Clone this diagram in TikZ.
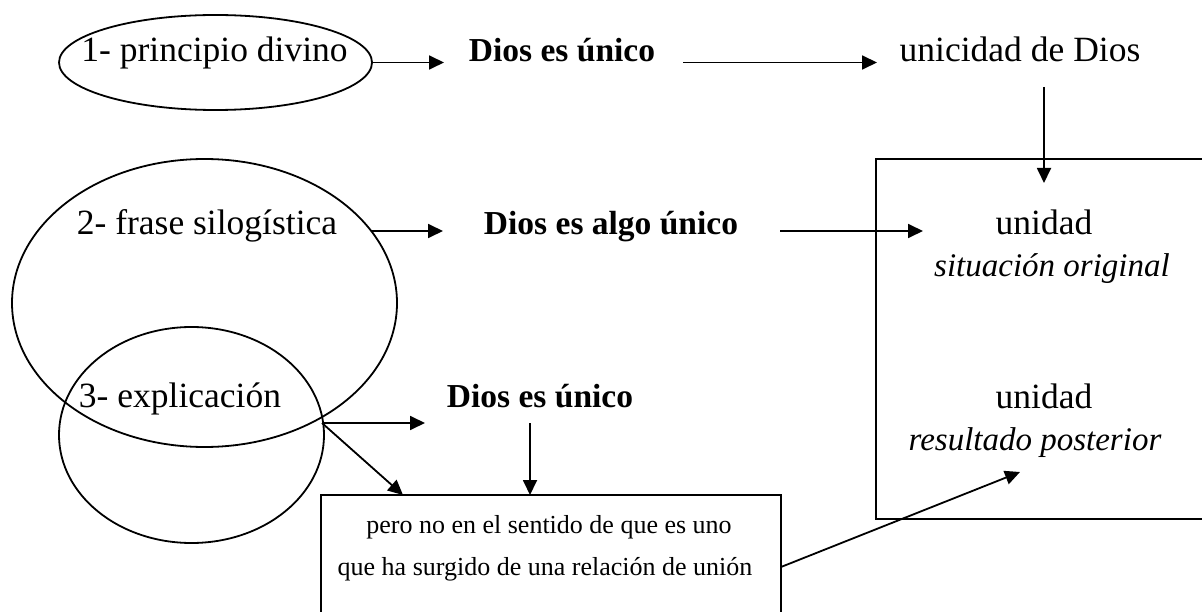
\documentclass[tikz,border=0pt]{standalone}
\usepackage{fontspec}
\setmainfont{Liberation Serif}
\usetikzlibrary{shapes.geometric,arrows.meta}
\begin{document}
\begin{tikzpicture}[x=1pt,y=-1pt,
  line width=1.8pt,
  shp/.style={draw,ellipse,inner sep=0pt},
  bx/.style={draw,rectangle,inner sep=0pt},
  lbl/.style={anchor=base,inner sep=0pt,font=\fontsize{35.5}{42}\selectfont},
  blbl/.style={lbl,font=\fontsize{33.5}{40}\selectfont\bfseries},
  ilbl/.style={lbl,font=\fontsize{33}{40}\selectfont\itshape},
  slbl/.style={anchor=base,inner sep=0pt,font=\fontsize{26}{42}\selectfont},
  arr/.style={-{Triangle[length=15pt,width=14pt]}}]
\useasboundingbox (0,0) rectangle (1202,612);
\clip (0,0) rectangle (1202,612);

% shapes
\node[shp,minimum width=313pt,minimum height=95pt] (e1) at (215.5,62.5) {};
\node[shp,minimum width=385pt,minimum height=288pt] (e2) at (204.5,303) {};
\node[shp,minimum width=265pt,minimum height=216pt] (e3) at (191.5,435) {};
\node[bx,minimum width=384pt,minimum height=360pt] (rbox) at (1068,339) {};
\node[bx,minimum width=460pt,minimum height=165pt] (bbox) at (551,577.5) {};

% labels
\node[lbl]  (t1) at (214.5,62) {1- principio divino};
\node[blbl] (d1) at (562,62) {Dios es único};
\node[lbl]  (u)  at (1020,62) {unicidad de Dios};
\node[lbl]  (t2) at (207,235) {2- frase silogística};
\node[blbl] (d2) at (611,235) {Dios es algo único};
\node[lbl]  (un1) at (1044,235) {unidad};
\node[ilbl] (so) at (1052,277) {situación original};
\node[lbl]  (t3) at (180,407) {3- explicación};
\node[blbl] (d3) at (540,407) {Dios es único};
\node[lbl]  (un2) at (1044,408) {unidad};
\node[ilbl] (rp) at (1035,450) {resultado posterior};
\node[slbl] (b1) at (549,533) {pero no en el sentido de que es uno};
\node[slbl] (b2) at (545,575) {que ha surgido de una relación de unión};

% connector end points
\coordinate (a1e) at (444,62.5);
\coordinate (a2s) at (683,62.5);
\coordinate (a2e) at (877,62.5);
\coordinate (a3s) at (1044,87);
\coordinate (a3e) at (1044,183);
\coordinate (a4s) at (371,231);
\coordinate (a4e) at (443,231);
\coordinate (a5s) at (780,231);
\coordinate (a5e) at (923,231);
\coordinate (a6s) at (322,423);
\coordinate (a6e) at (425,423);
\coordinate (a7e) at (403,495);
\coordinate (a8s) at (530,423);
\coordinate (a8e) at (530,495);
\coordinate (a9s) at (781,567);
\coordinate (a9e) at (1020,472);

% connectors
\draw[arr] (e1.east) -- (a1e);
\draw[arr] (a2s) -- (a2e);
\draw[arr] (a3s) -- (a3e);
\draw[arr] (a4s) -- (a4e);
\draw[arr] (a5s) -- (a5e);
\draw[arr] (a6s) -- (a6e);
\draw[arr] (a6s) -- (a7e);
\draw[arr] (a8s) -- (a8e);
\draw[arr] (a9s) -- (a9e);
\end{tikzpicture}
\end{document}
